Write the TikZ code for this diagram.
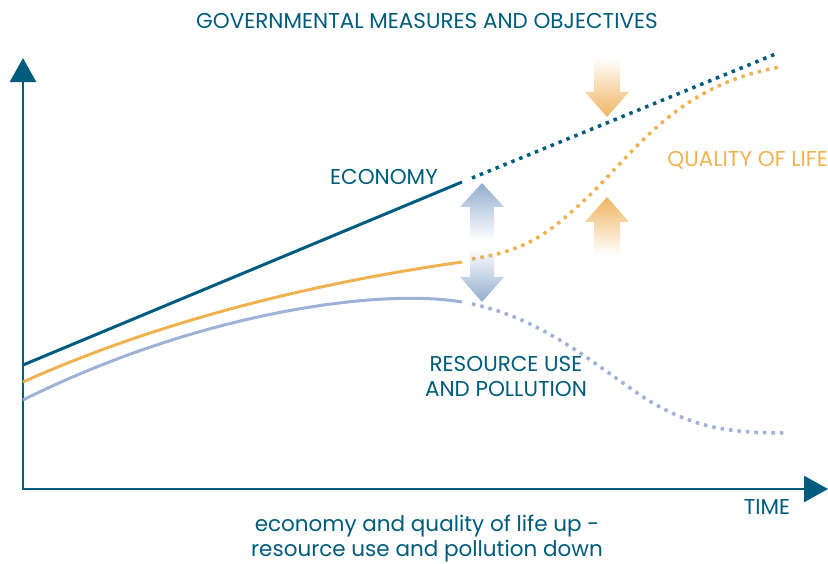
\documentclass[tikz,border=0pt]{standalone}
\usepackage{fontspec}
\setmainfont{Poppins}
\usepackage{xcolor}
\usetikzlibrary{arrows.meta,fadings}

\definecolor{econblue}{RGB}{0,92,124}
\definecolor{lifeorange}{RGB}{240,178,80}
\definecolor{resblue}{RGB}{158,177,214}
\definecolor{arrblue}{RGB}{140,168,204}
\definecolor{arrorange}{RGB}{238,176,88}

\tikzfading[name=fade down, top color=transparent!5, middle color=transparent!45, bottom color=transparent!100]
\tikzfading[name=fade up, bottom color=transparent!5, middle color=transparent!45, top color=transparent!100]

\tikzset{
  axis/.style={econblue, line width=2.5pt, -{Triangle[length=24pt,width=26pt]}},
  curve/.style={line width=3pt},
  dots/.style={line width=3.5pt, dash pattern=on 3.5pt off 5pt},
  label/.style={font=\fontsize{21.5}{25}\selectfont, inner sep=0pt},
}

\begin{document}
\begin{tikzpicture}[x=1pt,y=-1pt]
\useasboundingbox (0,0) rectangle (828,563);

% axes
\draw[axis] (23,489) -- (23,58);
\draw[axis] (22,489) -- (828,489);

% economy
\draw[curve, econblue] (23,365) -- (462,182);
\draw[dots, econblue] (472,178) -- (778,53);

% quality of life
\draw[curve, lifeorange] (23,382) .. controls (150,325) and (300,285) .. (462,262);
\draw[dots, lifeorange] (472,259) .. controls (530,250) and (550,232) .. (590,195)
  .. controls (640,145) and (680,85) .. (780,67);

% resource use and pollution
\draw[curve, resblue] (23,400) .. controls (200,312) and (380,288) .. (462,302);
\draw[dots, resblue] (472,304) .. controls (540,318) and (592,362) .. (640,395)
  .. controls (690,428) and (730,433) .. (785,433);

% governmental measures
\fill[arrblue, path fading=fade down] (482,183) -- (504,207) -- (494,207) -- (494,240)
  -- (470,240) -- (470,207) -- (460,207) -- cycle;
\fill[arrblue, path fading=fade up] (482,302) -- (504,277) -- (494,277) -- (494,248)
  -- (470,248) -- (470,277) -- (460,277) -- cycle;
\fill[arrorange, path fading=fade up] (607,117) -- (629,92) -- (620,92) -- (620,58)
  -- (594,58) -- (594,92) -- (585,92) -- cycle;
\fill[arrorange, path fading=fade down] (607,197) -- (629,222) -- (620,222) -- (620,255)
  -- (594,255) -- (594,222) -- (585,222) -- cycle;

% texts
\node[label, econblue] (title) at (427,21) {GOVERNMENTAL MEASURES AND OBJECTIVES};
\node[label, econblue] (econ) at (384,177) {ECONOMY};
\node[label, lifeorange, anchor=east] (life) at (828,160) {QUALITY OF LIFE};
\node[label, econblue, align=center] (res) at (506,376) {RESOURCE USE\\AND POLLUTION};
\node[label, econblue] (time) at (767,507) {TIME};
\node[label, econblue, align=center] (sub) at (427,539) {economy and quality of life up -\\resource use and pollution down};
\end{tikzpicture}
\end{document}
